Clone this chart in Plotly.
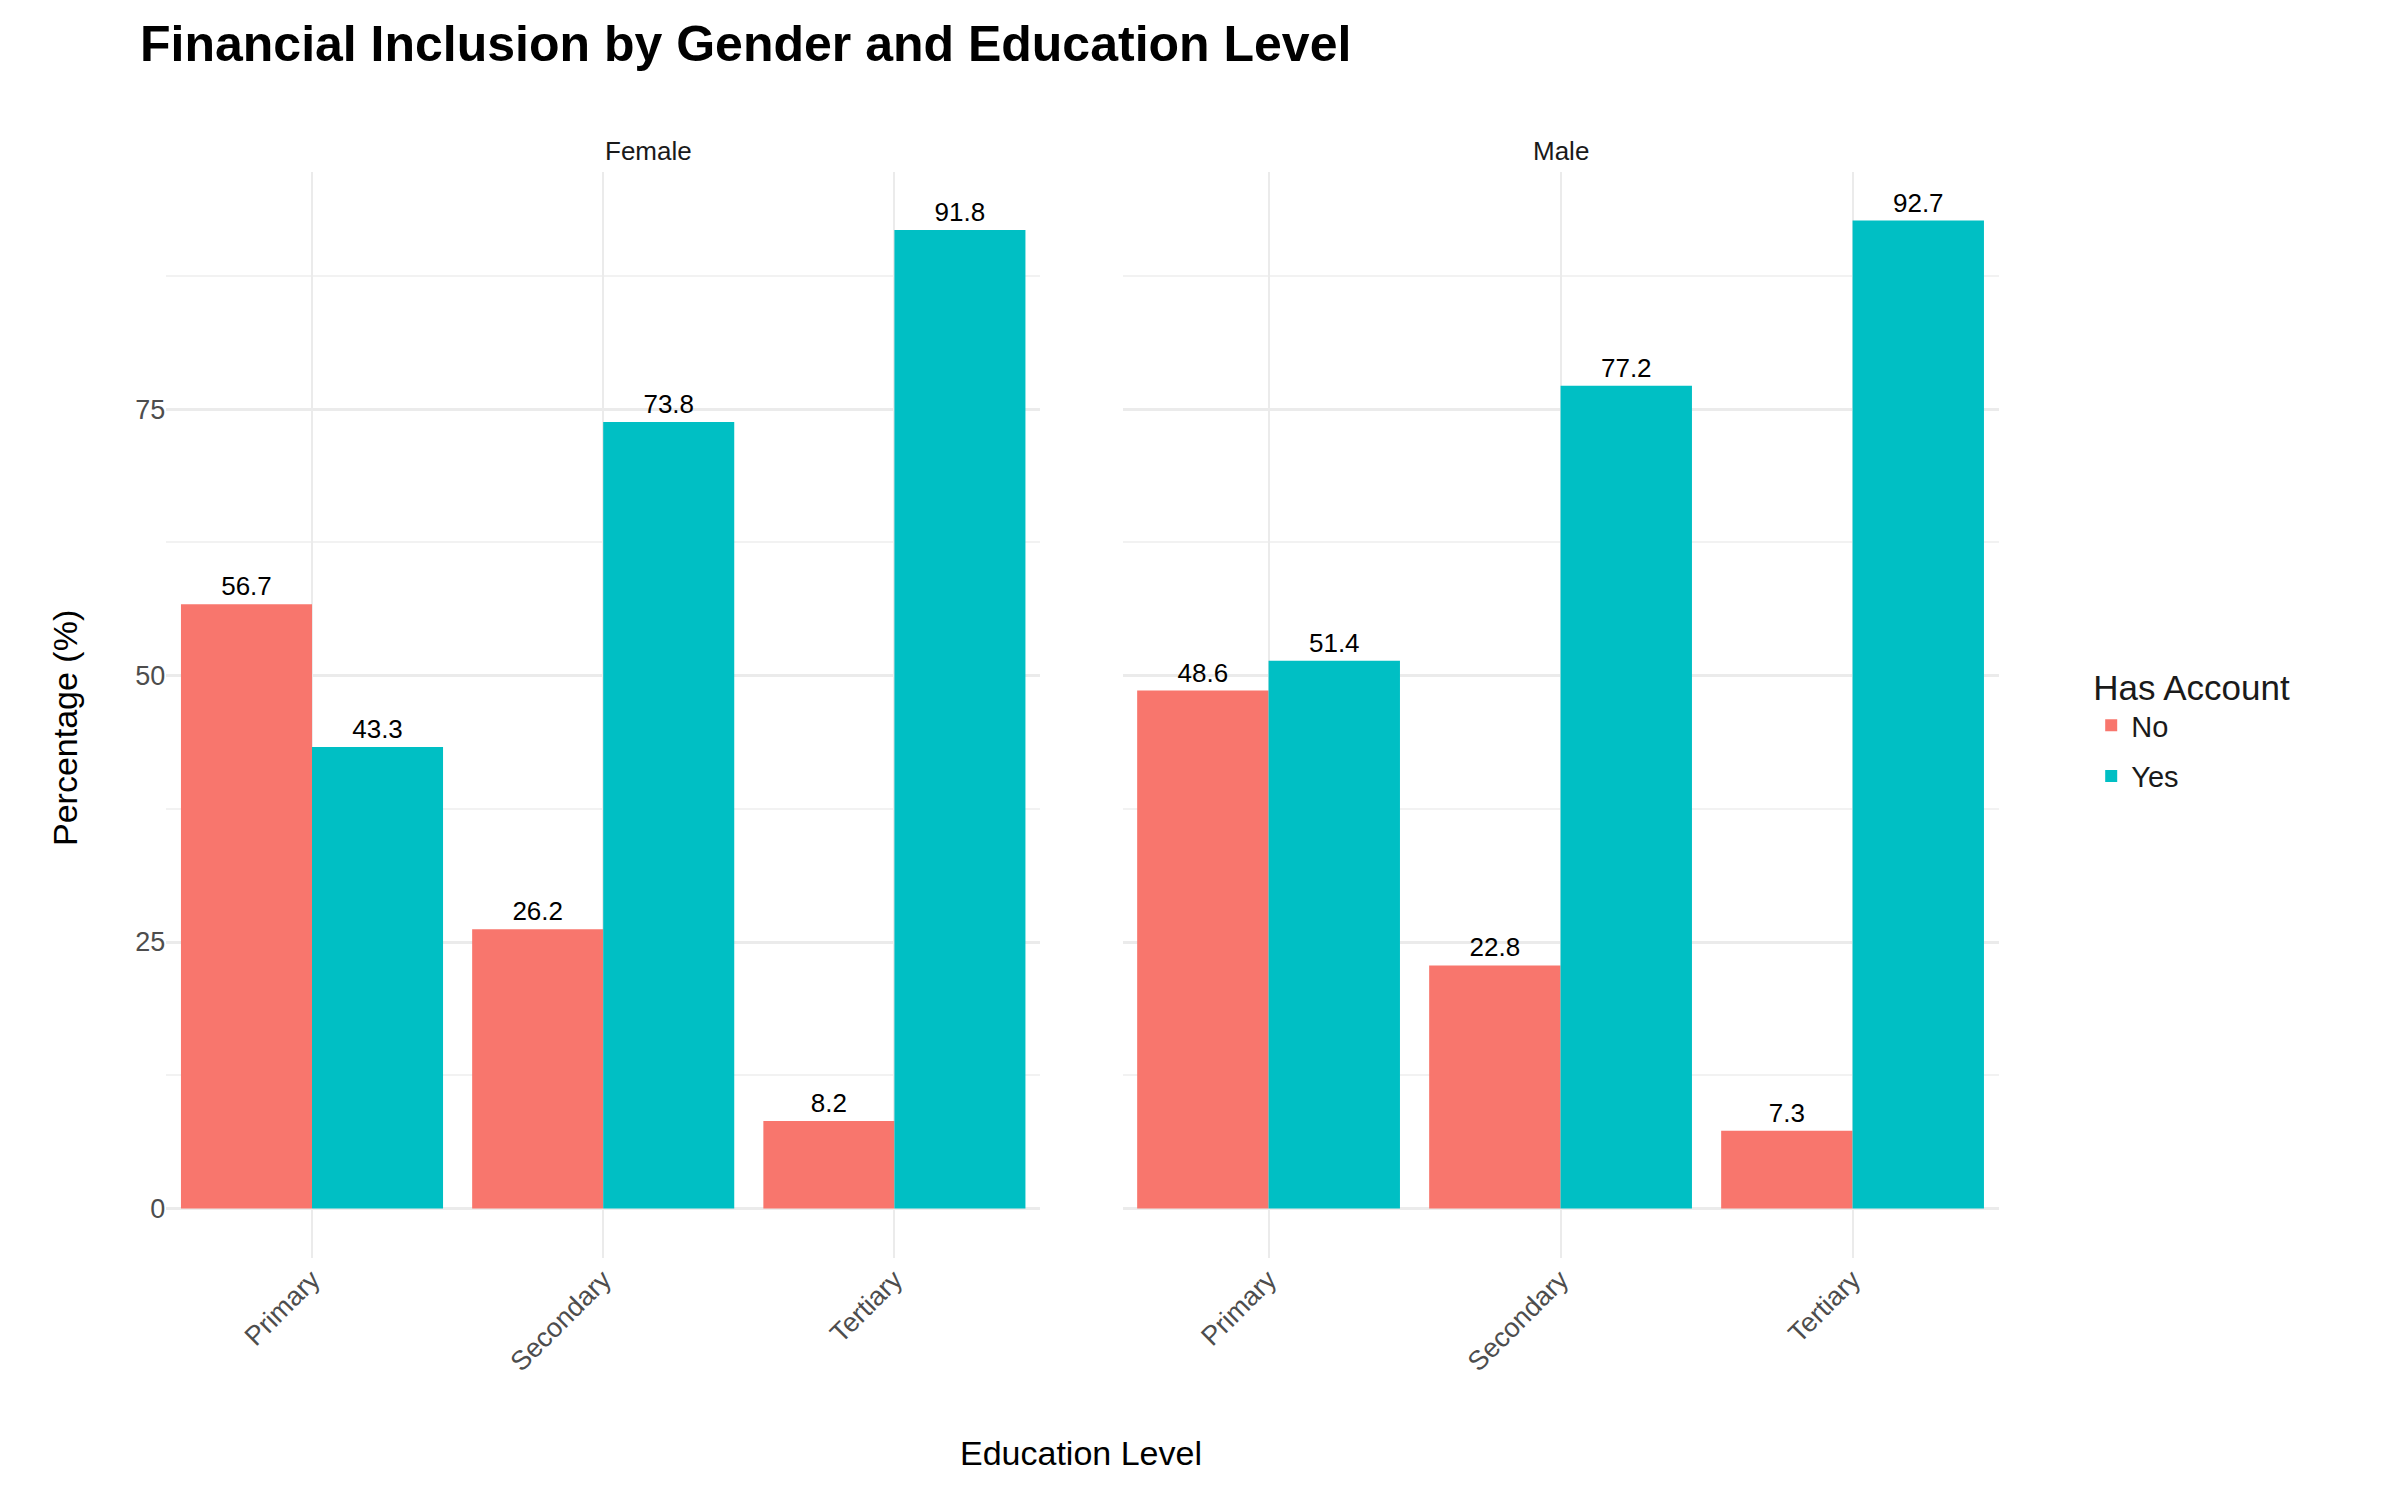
import plotly.graph_objects as go
from plotly.subplots import make_subplots

genders = ['Female', 'Male']
levels = ['Primary', 'Secondary', 'Tertiary']
no_vals = {'Female': [56.7, 26.2, 8.2], 'Male': [48.6, 22.8, 7.3]}
yes_vals = {'Female': [43.3, 73.8, 91.8], 'Male': [51.4, 77.2, 92.7]}

fnt = 'Liberation Sans, Arial, sans-serif'
fig = make_subplots(rows=1, cols=2, shared_yaxes=True)

for i, g in enumerate(genders):
    for name, vals, col in [('No', no_vals[g], '#F8766D'), ('Yes', yes_vals[g], '#00BFC4')]:
        fig.add_trace(go.Bar(x=levels, y=vals, name=name, marker_color=col, marker_line_width=0,
                             texttemplate='%{y:.1f}', textposition='outside', cliponaxis=False,
                             textfont=dict(size=26, color='black', family=fnt),
                             legendgroup=name, showlegend=(i == 0)), row=1, col=i + 1)

fig.update_layout(
    width=2400, height=1500, margin=dict(l=0, r=0, t=0, b=0),
    plot_bgcolor='white', paper_bgcolor='white', barmode='group', bargap=0.1, bargroupgap=0,
    font=dict(family=fnt, color='#4D4D4D'),
    title=dict(text='<b>Financial Inclusion by Gender and Education Level</b>', x=0.055, y=0.988,
               xanchor='left', yanchor='top', font=dict(size=50, color='black')),
    legend=dict(x=0.868, y=0.52, xanchor='left', yanchor='middle', font=dict(size=29, color='#1a1a1a'),
                title=dict(text='Has Account', font=dict(size=35, color='#1a1a1a')), itemsizing='constant',
                tracegroupgap=10),
    xaxis=dict(domain=[0.066, 0.430]), xaxis2=dict(domain=[0.4644, 0.8294]),
)
fig.update_xaxes(tickangle=-45, tickfont=dict(size=27, color='#4D4D4D'), showgrid=True, gridcolor='#EBEBEB',
                 gridwidth=2, zeroline=False, ticks='', automargin=False)
fig.update_yaxes(range=[-4.6, 97.3], tickvals=[0, 25, 50, 75], showgrid=True, gridcolor='#EBEBEB', gridwidth=3,
                 minor=dict(tickvals=[12.5, 37.5, 62.5, 87.5], showgrid=True, gridcolor='#F2F2F2', gridwidth=2),
                 zeroline=False, tickfont=dict(size=27, color='#4D4D4D'), domain=[0.167, 0.891], automargin=False)
fig.update_yaxes(showticklabels=False, row=1, col=2)

fig.add_annotation(text='Female', x=0.248, y=0.916, xref='paper', yref='paper', showarrow=False,
                   font=dict(size=26, color='#1a1a1a'))
fig.add_annotation(text='Male', x=0.6469, y=0.916, xref='paper', yref='paper', showarrow=False,
                   font=dict(size=26, color='#1a1a1a'))
fig.add_annotation(text='Education Level', x=0.447, y=0.037, xref='paper', yref='paper', showarrow=False,
                   yanchor='middle', font=dict(size=34, color='black'))
fig.add_annotation(text='Percentage (%)', x=0.015, y=0.52, xref='paper', yref='paper', showarrow=False,
                   textangle=-90, font=dict(size=34, color='black'))

fig.write_html('out.html')
